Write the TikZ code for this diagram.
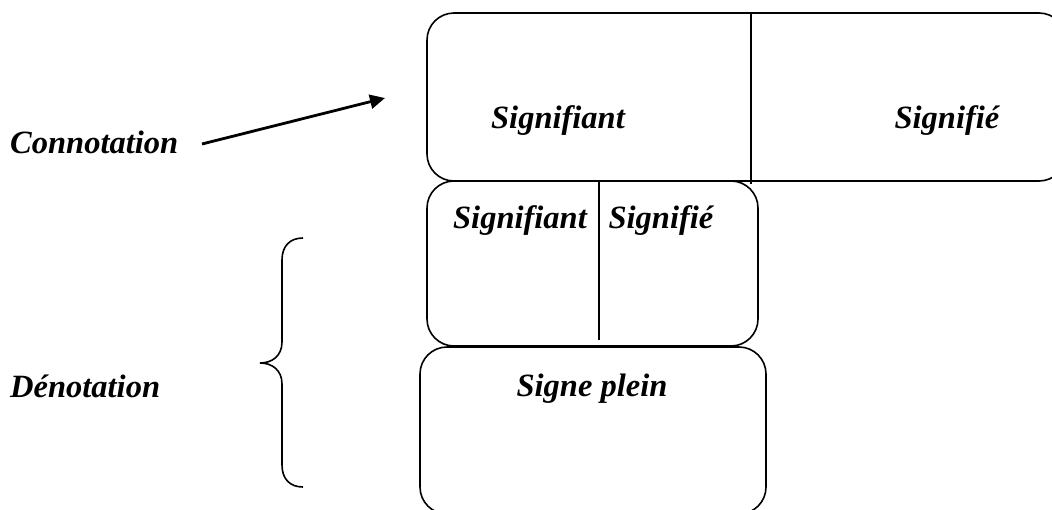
\documentclass[tikz,border=0pt]{standalone}
\usepackage{fontspec}
\setmainfont{Liberation Serif}
\usetikzlibrary{arrows.meta}
\begin{document}
\begin{tikzpicture}[x=1pt,y=-1pt,
  lbl/.style={font=\fontsize{32.5}{32.5}\selectfont\bfseries\itshape, inner sep=0pt, anchor=base},
  box/.style={draw, line width=1.6pt, rounded corners=27pt},
  div/.style={line width=1.6pt},
  arr/.style={line width=2.8pt, -{Triangle[length=15pt,width=14pt]}},
  brace/.style={line width=1.6pt}]
\useasboundingbox (0,0) rectangle (1052,509);
\clip (0,0) rectangle (1052,509);
% boxes
\draw[box] (427,13) rectangle (1066,181);
\draw[div] (751,13) -- (751,184);
\draw[box] (427,181) rectangle (758,346);
\draw[div] (599,181) -- (599,340);
\draw[box] (420,347) rectangle (766,514);
% texts
\node[lbl] (csig) at (558,128) {Signifiant};
\node[lbl] (cse) at (947,128) {Signifié};
\node[lbl] (dsig) at (520,228) {Signifiant};
\node[lbl] (dse) at (661,228) {Signifié};
\node[lbl] (plein) at (592,396) {Signe plein};
\node[lbl, anchor=base west] (conn) at (10,153) {Connotation};
\node[lbl, anchor=base west] (deno) at (10,397) {Dénotation};
% arrow
\coordinate (as) at (202,144);
\coordinate (ae) at (385,98);
\draw[arr] (as) -- (ae);
% brace
\coordinate (bt) at (303,238);
\coordinate (bb) at (303,487);
\coordinate (bm) at (260,363);
\draw[brace] (bt) .. controls (290,238) and (282,246) .. (282,260)
  -- (282,342) .. controls (282,356) and (272,363) .. (bm)
  .. controls (272,363) and (282,370) .. (282,384)
  -- (282,465) .. controls (282,479) and (290,487) .. (bb);
\end{tikzpicture}
\end{document}
